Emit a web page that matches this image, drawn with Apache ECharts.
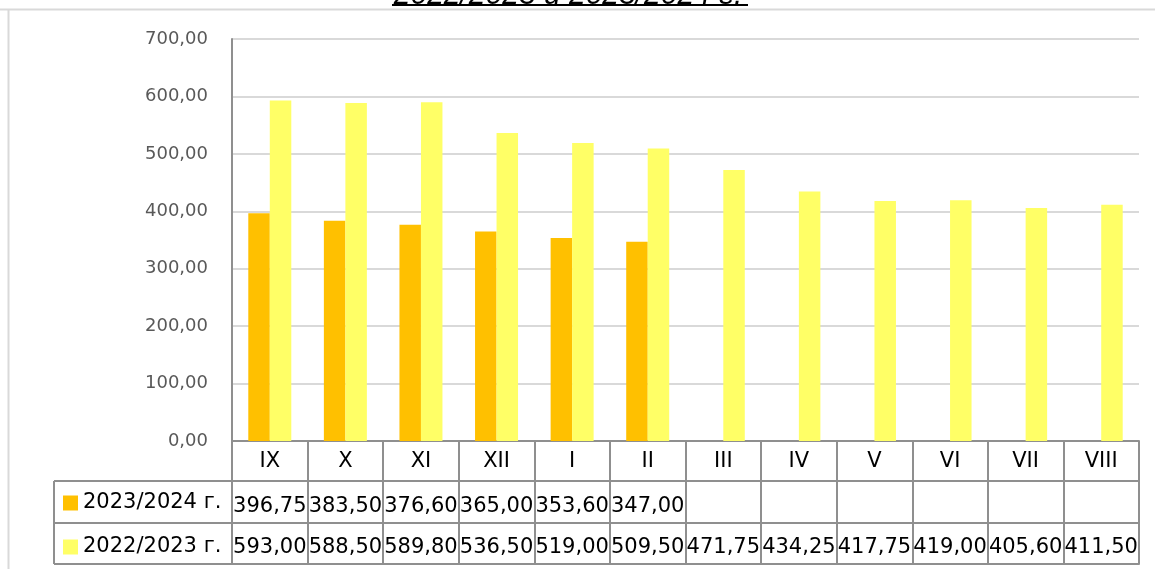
<!DOCTYPE html>
<html>
<head>
<meta charset="utf-8">
<script src="https://cdn.jsdelivr.net/npm/echarts@6/dist/echarts.min.js"></script>
<style>
  html, body { margin: 0; padding: 0; background: #fff; }
  #chart { width: 1155px; height: 569px; }
</style>
</head>
<body>
<div id="chart"></div>
<script>
// months of the school year
const months = ['IX', 'X', 'XI', 'XII', 'I', 'II', 'III', 'IV', 'V', 'VI', 'VII', 'VIII']
const season2324 = [396.75, 383.5, 376.6, 365.0, 353.6, 347.0, null, null, null, null, null, null]
const season2223 = [593.0, 588.5, 589.8, 536.5, 519.0, 509.5, 471.75, 434.25, 417.75, 419.0, 405.6, 411.5]
const seriesNames = ['2023/2024 г.', '2022/2023 г.']
const titleText = '2022/2023 и 2023/2024 г.'

const fmt = v => (v == null ? '' : v.toFixed(2).replace('.', ','))

const gridLeft = 232
const gridRight = 1139
const gridTop = 39
const axisY = 441
const rowH = [40, 42, 41]
const legendLeft = 54
const tableLine = '#8f8f8f'
const font = 'DejaVu Sans'

const chart = echarts.init(document.getElementById('chart'))

const tableAxis = (data, offset, tickLen, margin, extra) => Object.assign({
  type: 'category',
  data: data,
  position: 'bottom',
  offset: offset,
  axisLine: { show: true, lineStyle: { color: tableLine, width: 2 } },
  axisTick: { show: tickLen > 0, length: tickLen, lineStyle: { color: tableLine, width: 2 } },
  axisLabel: { show: true, color: '#000', fontFamily: font, fontSize: 21, margin: margin, interval: 0 },
  splitLine: { show: false }
}, extra || {})

const row1 = axisY + rowH[0]
const row2 = row1 + rowH[1]
const row3 = row2 + rowH[2]

chart.setOption({
  animation: false,
  grid: { left: gridLeft, right: 1155 - gridRight, top: gridTop, bottom: 569 - axisY, containLabel: false },
  legend: {
    data: seriesNames,
    orient: 'vertical',
    left: 58,
    top: row1 + 5,
    itemWidth: 15,
    itemHeight: 15,
    itemGap: 20,
    icon: 'rect',
    selectedMode: false,
    textStyle: { color: '#000', fontFamily: font, fontSize: 21, lineHeight: 24 }
  },
  xAxis: [
    tableAxis(months, 0, rowH[0], 10),
    tableAxis(season2324.map(fmt), rowH[0], rowH[1], 15),
    tableAxis(season2223.map(fmt), rowH[0] + rowH[1], rowH[2], 14),
    tableAxis(months.map(() => ''), rowH[0] + rowH[1] + rowH[2], 0, 0, { axisLabel: { show: false } })
  ],
  yAxis: {
    type: 'value',
    min: 0,
    max: 700,
    interval: 100,
    axisLine: { show: true, lineStyle: { color: tableLine, width: 2 } },
    axisTick: { show: false },
    axisLabel: {
      color: '#595959',
      fontFamily: font,
      fontSize: 18,
      margin: 24,
      formatter: v => fmt(v)
    },
    splitLine: { lineStyle: { color: '#d9d9d9', width: 2 } }
  },
  series: [
    {
      name: seriesNames[0],
      type: 'bar',
      data: season2324,
      barWidth: 21.5,
      barGap: '0%',
      itemStyle: { color: '#FFC000' }
    },
    {
      name: seriesNames[1],
      type: 'bar',
      data: season2223,
      barWidth: 21.5,
      barGap: '0%',
      itemStyle: { color: '#FFFF66' }
    }
  ],
  graphic: [
    // frame of the chart object
    { type: 'line', shape: { x1: 0, y1: 9.5, x2: 1155, y2: 9.5 }, style: { stroke: '#d9d9d9', lineWidth: 2 } },
    { type: 'line', shape: { x1: 8.5, y1: 9, x2: 8.5, y2: 569 }, style: { stroke: '#d9d9d9', lineWidth: 2 } },
    // title, cut off by the page edge
    {
      type: 'text',
      x: 568, y: 11,
      style: {
        text: titleText,
        font: 'italic 30px "Liberation Sans"',
        fill: '#000',
        align: 'center',
        verticalAlign: 'bottom'
      }
    },
    { type: 'line', shape: { x1: 392, y1: 5, x2: 748, y2: 5 }, style: { stroke: '#000', lineWidth: 2 } },
    // legend cells of the data table
    { type: 'line', shape: { x1: legendLeft, y1: row1, x2: gridLeft, y2: row1 }, style: { stroke: tableLine, lineWidth: 2 } },
    { type: 'line', shape: { x1: legendLeft, y1: row2, x2: gridLeft, y2: row2 }, style: { stroke: tableLine, lineWidth: 2 } },
    { type: 'line', shape: { x1: legendLeft, y1: row3, x2: gridLeft, y2: row3 }, style: { stroke: tableLine, lineWidth: 2 } },
    { type: 'line', shape: { x1: legendLeft, y1: row1, x2: legendLeft, y2: row3 }, style: { stroke: tableLine, lineWidth: 2 } },
    { type: 'line', shape: { x1: gridLeft, y1: axisY, x2: gridLeft, y2: row3 }, style: { stroke: tableLine, lineWidth: 2 } }
  ]
})
</script>
</body>
</html>
